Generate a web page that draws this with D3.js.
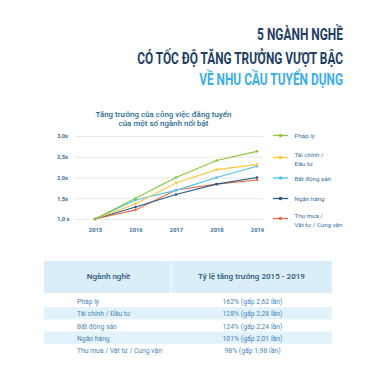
<!DOCTYPE html>
<html><head><meta charset="utf-8">
<script src="https://cdn.jsdelivr.net/npm/d3@7"></script>
<style>
html,body{margin:0;padding:0;background:#fff;}
svg{display:block;}
</style></head>
<body><svg id="c" width="374" height="375"></svg>
<script>
const titleLines = ["5 NGÀNH NGHỀ", "CÓ TỐC ĐỘ TĂNG TRƯỞNG VƯỢT BẬC", "VỀ NHU CẦU TUYỂN DỤNG"];
const chartTitle = ["Tăng trưởng của công việc đăng tuyển", "của một số ngành nổi bật"];
const years = ["2015", "2016", "2017", "2018", "2019"];
const yTicks = [1, 1.5, 2, 2.5, 3];
const yTickLabels = ["1,0 x", "1,5x", "2,0x", "2,5x", "3,0x"];
const seriesNames = ["Pháp lý", "Tài chính / Đầu tư", "Bất động sản", "Ngân hàng", "Thu mua / Vật tư / Cung vận"];
const legendLines = [["Pháp lý"], ["Tài chính /", "Đầu tư"], ["Bất động sản"], ["Ngân hàng"], ["Thu mua /", "Vật tư / Cung vận"]];
const phapLy = [1, 1.50, 2.00, 2.41, 2.63];
const taiChinh = [1, 1.37, 1.87, 2.19, 2.31];
const batDongSan = [1, 1.46, 1.69, 2.00, 2.27];
const nganHang = [1, 1.29, 1.59, 1.84, 2.00];
const thuMua = [1, 1.22, 1.70, 1.84, 1.94];
const colors = ["#8cc63e", "#fbc93d", "#4fc0ee", "#2b5a86", "#f26a45"];
const tableHeader = ["Ngành nghề", "Tỷ lệ tăng trưởng 2015 - 2019"];
const tableRates = ["162% (gấp 2,62 lần)", "128% (gấp 2,28 lần)", "124% (gấp 2,24 lần)", "101% (gấp 2,01 lần)", "98% (gấp 1,98 lần)"];

const series = [phapLy, taiChinh, batDongSan, nganHang, thuMua];
const svg = d3.select("#c");
const F = "Roboto, sans-serif";

// font-size fitting helper: size so that sample text has target width
function fitSize(sample, target, weight) {
  const t = svg.append("text").attr("font-family", F).attr("font-weight", weight || 400)
    .attr("font-size", 10).text(sample);
  const w = t.node().getComputedTextLength();
  t.remove();
  return 10 * target / w;
}

// Title (condensed look via horizontal scaling)
const titleSpec = [
  {y: 40, len: 86, color: "#1f3e66"},
  {y: 63.5, len: 206, color: "#1f3e66"},
  {y: 84.5, len: 144, color: "#3aaee6"}
];
svg.append("g").selectAll("text").data(titleLines).join("text")
  .attr("text-anchor", "end")
  .attr("font-family", F).attr("font-weight", 700)
  .attr("font-size", 16.5)
  .attr("fill", (d,i) => titleSpec[i].color)
  .text(d => d)
  .each(function(d,i){
    const w = this.getComputedTextLength();
    const sx = titleSpec[i].len / w;
    d3.select(this).attr("transform", `translate(343,${titleSpec[i].y}) scale(${sx},1)`);
  });

// Chart title
const ctSize = fitSize(chartTitle[0], 136, 500);
svg.append("g").selectAll("text").data(chartTitle).join("text")
  .attr("x", 163.5).attr("y", (d,i) => 116.5 + i*9.3)
  .attr("text-anchor", "middle")
  .attr("font-family", F).attr("font-weight", 500).attr("font-size", ctSize)
  .attr("fill", "#2a6b93")
  .text(d => d);

const x = d3.scalePoint().domain(years).range([95, 257]);
const y = d3.scaleLinear().domain([1, 3]).range([219, 136]);

// grid
const grid = svg.append("g").attr("transform", "translate(75,0)")
  .call(d3.axisLeft(y).tickValues(yTicks).tickSize(-(263 - 75)).tickFormat(""));
grid.select(".domain").remove();
grid.selectAll("line").attr("stroke", "#e8e8e8").attr("stroke-width", 1);

const axSize = fitSize("2015", 13.4, 700);
// y labels
const yAx = svg.append("g").attr("transform", "translate(57,0)")
  .call(d3.axisLeft(y).tickValues(yTicks).tickSize(0).tickPadding(0).tickFormat((d,i) => yTickLabels[i]));
yAx.select(".domain").remove();
yAx.selectAll("text").attr("text-anchor", "start").attr("x", 0)
  .attr("font-family", F).attr("font-weight", 700).attr("font-size", axSize).attr("fill", "#3b6f98");

// x labels
const xAx = svg.append("g").attr("transform", "translate(0,228)")
  .call(d3.axisBottom(x).tickSize(0).tickPadding(0));
xAx.select(".domain").remove();
xAx.selectAll("text").attr("dy", "0.71em")
  .attr("font-family", F).attr("font-weight", 700).attr("font-size", axSize).attr("fill", "#3b6f98");

// lines (draw in reverse so green on top)
const line = d3.line().x((d,i) => x(years[i])).y(d => y(d));
const order = [4, 3, 2, 1, 0];
const lg = svg.append("g");
order.forEach(k => {
  lg.append("path").datum(series[k]).attr("d", line)
    .attr("fill", "none").attr("stroke", colors[k]).attr("stroke-width", 1.1);
  lg.append("g").selectAll("circle").data(series[k]).join("circle")
    .attr("cx", (d,i) => x(years[i])).attr("cy", d => y(d)).attr("r", 1.3)
    .attr("fill", colors[k]);
});

// legend
const legSize = fitSize("Vật tư / Cung vận", 48, 400);
const legendY = [135.5, 157.5, 178, 198.5, 218.5];
const leg = svg.append("g").selectAll("g").data(seriesNames).join("g")
  .attr("transform", (d,i) => `translate(0,${legendY[i]})`);
leg.append("line").attr("x1", 273).attr("x2", 288).attr("y1", 0).attr("y2", 0)
  .attr("stroke", (d,i) => colors[i]).attr("stroke-width", 1.3);
leg.append("circle").attr("cx", 280.5).attr("cy", 0).attr("r", 1.8).attr("fill", (d,i) => colors[i]);
leg.each(function(d,i){
  const lines = legendLines[i];
  const g = d3.select(this);
  const y0 = lines.length === 1 ? 2.5 : -0.5;
  g.selectAll("text").data(lines).join("text")
    .attr("x", 294.5).attr("y", (t,j) => y0 + j*8.8)
    .attr("font-family", F).attr("font-size", legSize)
    .attr("fill", "#3a6f9c").text(t => t);
});

// table
const tbl = svg.append("g");
tbl.append("rect").attr("x", 44).attr("y", 261).attr("width", 288).attr("height", 32).attr("fill", "#d9eef9");
tbl.append("line").attr("x1", 171).attr("x2", 171).attr("y1", 261).attr("y2", 293).attr("stroke", "#fff").attr("stroke-width", 1);
const hSize = fitSize(tableHeader[1], 107, 500);
tbl.selectAll("text.h").data(tableHeader).join("text").attr("class", "h")
  .attr("x", (d,i) => i === 0 ? 108.5 : 251.5).attr("y", 278.5)
  .attr("text-anchor", "middle")
  .attr("font-family", F).attr("font-weight", 500).attr("font-size", hSize)
  .attr("fill", "#2c5878").text(d => d);

const rowY = d3.scaleBand().domain(d3.range(seriesNames.length)).range([295, 356]);
const nSize = fitSize(seriesNames[4], 85, 400);
const vSize = fitSize(tableRates[0], 60, 400);
tbl.selectAll("rect.r").data(seriesNames).join("rect").attr("class", "r")
  .attr("x", 44).attr("width", 288).attr("y", (d,i) => rowY(i)).attr("height", rowY.bandwidth())
  .attr("fill", (d,i) => i % 2 === 1 ? "#e2f2fb" : "none");
tbl.selectAll("text.n").data(seriesNames).join("text").attr("class", "n")
  .attr("x", 77).attr("y", (d,i) => rowY(i) + rowY.bandwidth()/2 + 3)
  .attr("font-family", F).attr("font-size", nSize)
  .attr("fill", "#4a85b6").text(d => d);
tbl.selectAll("text.v").data(tableRates).join("text").attr("class", "v")
  .attr("x", 252.5).attr("y", (d,i) => rowY(i) + rowY.bandwidth()/2 + 3)
  .attr("text-anchor", "middle")
  .attr("font-family", F).attr("font-size", vSize)
  .attr("fill", "#4a85b6").text(d => d);
</script></body></html>
